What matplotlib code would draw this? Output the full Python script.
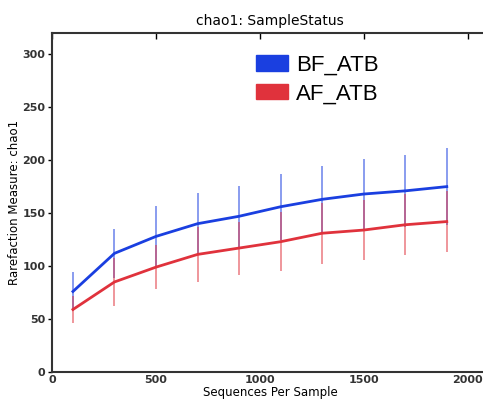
import matplotlib
matplotlib.use("Agg")
import matplotlib.pyplot as plt
from matplotlib.patches import Patch

seqs = [100, 300, 500, 700, 900, 1100, 1300, 1500, 1700, 1900]
bf_mean = [76, 112, 128, 140, 147, 156, 163, 168, 171, 175]
bf_err = [18, 23, 29, 29, 29, 31, 31, 33, 34, 36]
af_mean = [59, 85, 99, 111, 117, 123, 131, 134, 139, 142]
af_err = [13, 23, 21, 26, 25, 28, 29, 28, 29, 29]
labels = ["BF_ATB", "AF_ATB"]
colors = ["#1a3fe0", "#e0323c"]

fig = plt.figure(figsize=(4.83, 4.01), dpi=100)
ax = fig.add_axes([0.108, 0.0723, 0.903, 0.8454])

ax.errorbar(seqs, bf_mean, yerr=bf_err, color=colors[0], lw=2, elinewidth=1.2,
            ecolor=colors[0], capsize=0)
ax.errorbar(seqs, af_mean, yerr=af_err, color=colors[1], lw=2, elinewidth=1.2,
            ecolor=colors[1], capsize=0)
for coll in ax.collections:
    coll.set_alpha(0.6)

ax.set_xlim(0, 2100)
ax.set_ylim(0, 320)
ax.set_xticks([0, 500, 1000, 1500, 2000])
ax.set_yticks([0, 50, 100, 150, 200, 250, 300])
ax.tick_params(axis="both", labelsize=8, width=1, length=4, pad=2)
ax.tick_params(axis="y", direction="out", right=False, length=3)
ax.tick_params(axis="x", direction="in", top=True, bottom=False)
for lab in ax.get_xticklabels() + ax.get_yticklabels():
    lab.set_fontweight("bold")
    lab.set_color("#333333")
for s in ax.spines.values():
    s.set_linewidth(1.5)
    s.set_color("#333333")

ax.set_title("chao1: SampleStatus", fontsize=10, pad=6)
ax.set_xlabel("Sequences Per Sample", fontsize=8.5, labelpad=1)
ax.set_ylabel("Rarefaction Measure: chao1", fontsize=8.5, labelpad=1)

handles = [Patch(facecolor=c, edgecolor=c) for c in colors]
leg = ax.legend(handles, labels, loc="upper left", bbox_to_anchor=(256 / 483, 1 - 54.5 / 401),
                bbox_transform=fig.transFigure, borderpad=0, borderaxespad=0,
                frameon=False, prop={"family": "Liberation Sans", "size": 16},
                handlelength=1.45, handleheight=0.7, handletextpad=0.35, labelspacing=0.35)

fig.savefig("out.png", dpi=100)
